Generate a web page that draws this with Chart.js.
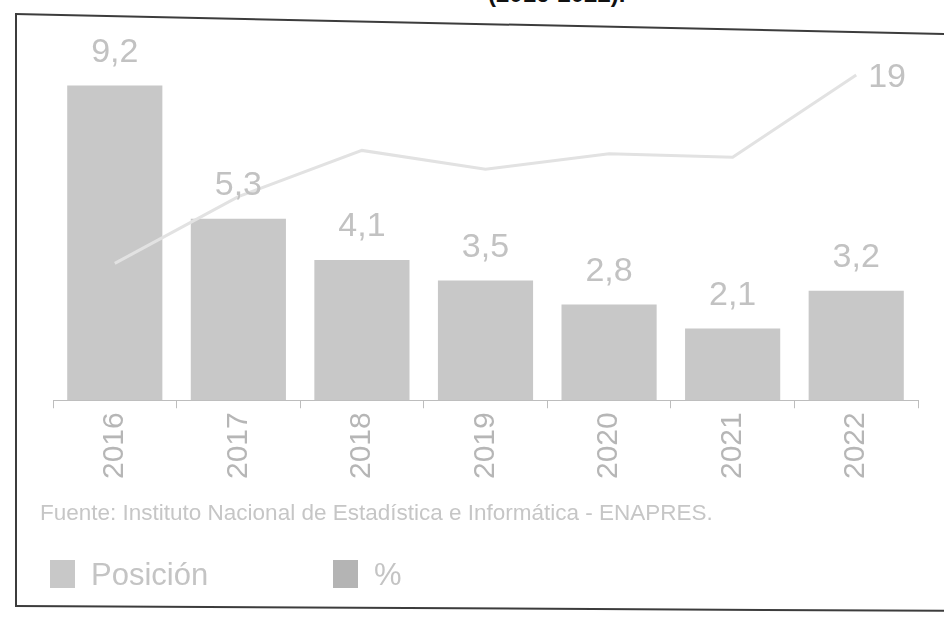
<!DOCTYPE html>
<html>
<head>
<meta charset="utf-8">
<script src="https://cdn.jsdelivr.net/npm/chart.js@4.4.1/dist/chart.umd.min.js"></script>
<style>
  body { margin: 0; background: #fff; font-family: "Liberation Sans", Arial, sans-serif; }
  #wrap { position: absolute; left: 0; top: 0; width: 944px; height: 621px; overflow: hidden; }
  #chartBox { position: absolute; left: 0; top: 0; width: 944px; height: 621px; }
  .edge { position: absolute; background: #3c3c3c; transform-origin: 0 0; }
  #title { position: absolute; left: 488px; top: -20px; font-weight: bold; font-size: 24px; color: #111; white-space: nowrap; }
  #source { position: absolute; left: 40px; top: 500px; font-size: 22.5px; color: #c6c6c6; white-space: nowrap; }
  #legend { position: absolute; left: 50px; top: 557px; font-size: 31px; color: #c4c4c4; }
  #legend span.item { position: absolute; top: 0; white-space: nowrap; }
  #legend span.box { display: inline-block; width: 25px; height: 28px; vertical-align: -3px; margin-right: 16px; }
</style>
</head>
<body>
<div id="wrap">
  <div id="title">(2016-2022).</div>
  <div class="edge" style="left:15px; top:13px; width:940px; height:2px; transform: rotate(1.23deg);"></div>
  <div class="edge" style="left:15px; top:13px; width:2px; height:594px;"></div>
  <div class="edge" style="left:15px; top:605px; width:940px; height:2px; transform: rotate(0.3deg);"></div>
  <div id="chartBox"><canvas id="posChart"></canvas></div>
  <div id="source">Fuente: Instituto Nacional de Estadística e Informática - ENAPRES.</div>
  <div id="legend"></div>
</div>
<script>
// Data
const years = ['2016', '2017', '2018', '2019', '2020', '2021', '2022'];
const posicion = [9.2, 5.3, 4.1, 3.5, 2.8, 2.1, 3.2];
const porcentaje = [8.0, 11.9, 14.6, 13.5, 14.4, 14.2, 19];

const barColor = '#c8c8c8';
const lineColor = '#e2e2e2';
const labelColor = '#c2c2c2';

// value labels above bars, and "19" at the end of the line
const valueLabels = {
    id: 'valueLabels',
    afterDatasetsDraw(chart) {
        const ctx = chart.ctx;
        ctx.save();
        ctx.font = '34px "Liberation Sans", Arial, sans-serif';
        ctx.fillStyle = labelColor;
        ctx.textBaseline = 'middle';

        ctx.textAlign = 'center';
        chart.getDatasetMeta(0).data.forEach((bar, i) => {
            const txt = String(posicion[i]).replace('.', ',');
            ctx.fillText(txt, bar.x, bar.y - 33);
        });

        const pts = chart.getDatasetMeta(1).data;
        const last = pts[pts.length - 1];
        ctx.textAlign = 'left';
        ctx.fillText(String(porcentaje[porcentaje.length - 1]).replace('.', ','), last.x + 12, last.y + 3);
        ctx.restore();
    }
};

const ctx = document.getElementById('posChart').getContext('2d');
const posChart = new Chart(ctx, {
    type: 'bar',
    data: {
        labels: years,
        datasets: [{
            label: 'Posición',
            data: posicion,
            backgroundColor: barColor,
            borderWidth: 0,
            barPercentage: 0.77,
            categoryPercentage: 1,
            yAxisID: 'y',
            order: 2
        }, {
            type: 'line',
            label: '%',
            data: porcentaje,
            borderColor: lineColor,
            backgroundColor: '#b4b4b4',
            borderWidth: 3,
            pointRadius: 0,
            tension: 0,
            yAxisID: 'y1',
            order: 1
        }]
    },
    options: {
        responsive: true,
        maintainAspectRatio: false,
        animation: false,
        layout: {
            padding: { left: 53, right: 26, top: 58, bottom: 138 }
        },
        plugins: {
            legend: { display: false },
            tooltip: { enabled: false }
        },
        scales: {
            x: {
                offset: true,
                grid: {
                    display: true,
                    drawOnChartArea: false,
                    offset: true,
                    tickLength: 8,
                    color: '#bdbdbd'
                },
                border: { display: true, color: '#bdbdbd', width: 1 },
                ticks: {
                    minRotation: 90,
                    maxRotation: 90,
                    padding: 4,
                    color: '#b6b6b6',
                    font: { size: 30, family: '"Liberation Sans", Arial, sans-serif' }
                }
            },
            y: { display: false, min: 0, max: 10 },
            y1: { display: false, min: 0, max: 20, position: 'right' }
        }
    },
    plugins: [valueLabels]
});

// legend built from the chart's datasets
const legendEl = document.getElementById('legend');
const legendX = [0, 283];
posChart.data.datasets.forEach((ds, i) => {
    const item = document.createElement('span');
    item.className = 'item';
    item.style.left = legendX[i] + 'px';
    const box = document.createElement('span');
    box.className = 'box';
    box.style.background = i === 0 ? barColor : '#b4b4b4';
    item.appendChild(box);
    item.appendChild(document.createTextNode(ds.label));
    legendEl.appendChild(item);
});
</script>
</body>
</html>
